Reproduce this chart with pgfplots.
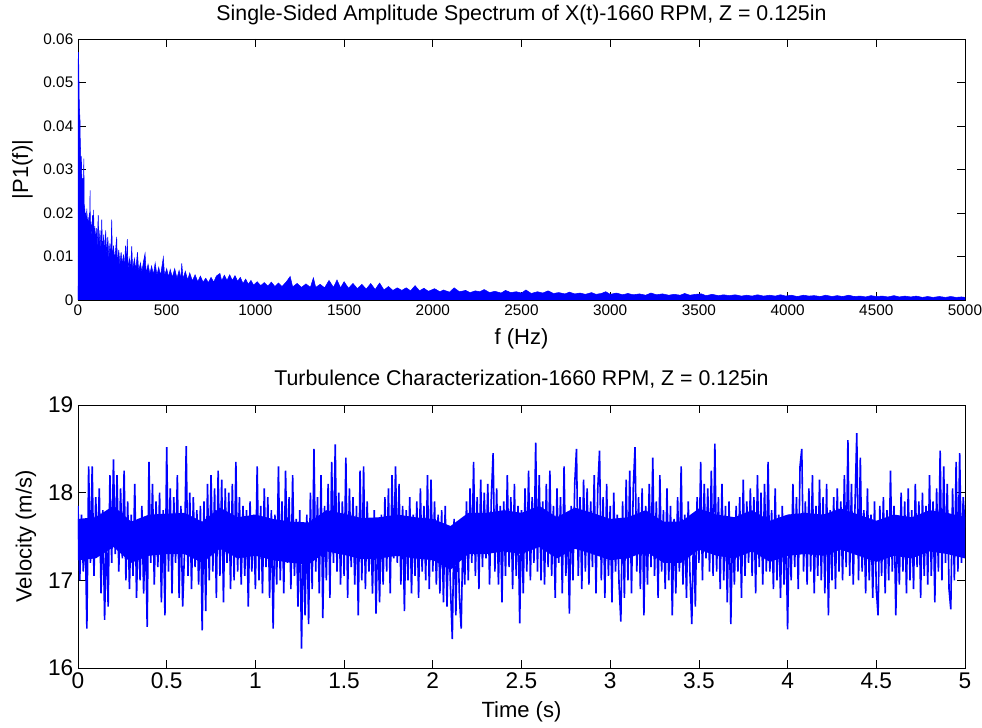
\documentclass[border=0pt]{standalone}
\usepackage{pgfplots}
\usepackage{pgfplotstable}
\pgfplotsset{compat=1.18}
\usepackage{fontspec}
\setmainfont{Liberation Sans}
\definecolor{mblue}{RGB}{0,0,255}

% velocity samples, 0.01 s apart, t = 0 ... 5 s
\pgfplotstableread[row sep=\\]{
v\\
17.85\\ 17.00\\ 17.75\\ 17.10\\ 17.65\\ 16.45\\ 18.30\\ 17.20\\ 18.30\\ 17.05\\
17.95\\ 17.30\\ 18.05\\ 16.85\\ 17.80\\ 16.55\\ 17.60\\ 16.70\\ 18.20\\ 17.20\\
18.38\\ 17.30\\ 18.20\\ 17.10\\ 18.05\\ 17.25\\ 18.25\\ 17.00\\ 17.90\\ 16.90\\
17.75\\ 17.05\\ 18.10\\ 16.80\\ 17.70\\ 17.00\\ 17.85\\ 16.85\\ 17.65\\ 16.47\\
18.35\\ 17.20\\ 18.10\\ 16.95\\ 17.90\\ 17.15\\ 18.00\\ 16.75\\ 17.80\\ 16.60\\
18.52\\ 17.10\\ 18.05\\ 16.85\\ 17.95\\ 17.20\\ 18.20\\ 16.80\\ 17.85\\ 16.70\\
17.30\\ 18.53\\ 17.05\\ 18.00\\ 16.90\\ 17.95\\ 17.15\\ 17.80\\ 16.95\\ 17.85\\
16.43\\ 17.90\\ 16.65\\ 18.10\\ 17.00\\ 18.20\\ 17.10\\ 18.05\\ 16.80\\ 18.25\\
17.05\\ 18.15\\ 16.75\\ 18.05\\ 17.20\\ 18.00\\ 16.90\\ 18.10\\ 17.00\\ 18.35\\
17.10\\ 17.95\\ 16.95\\ 17.85\\ 17.05\\ 17.80\\ 16.70\\ 17.90\\ 17.10\\ 17.75\\
16.90\\ 18.30\\ 17.00\\ 17.85\\ 16.85\\ 18.05\\ 17.15\\ 17.95\\ 16.80\\ 17.80\\
16.45\\ 17.75\\ 16.95\\ 18.30\\ 17.00\\ 17.90\\ 16.85\\ 18.25\\ 17.20\\ 17.95\\
16.90\\ 18.20\\ 17.05\\ 17.70\\ 16.70\\ 17.80\\ 16.22\\ 17.60\\ 16.60\\ 17.75\\
16.50\\ 18.00\\ 16.90\\ 18.50\\ 17.10\\ 17.95\\ 16.85\\ 18.20\\ 16.57\\ 17.85\\
17.00\\ 18.10\\ 16.80\\ 18.35\\ 17.20\\ 18.55\\ 17.10\\ 18.00\\ 16.95\\ 17.90\\
17.05\\ 18.40\\ 16.80\\ 18.05\\ 17.15\\ 17.95\\ 16.95\\ 17.85\\ 16.60\\ 18.25\\
17.00\\ 18.30\\ 16.90\\ 17.90\\ 17.10\\ 17.70\\ 16.85\\ 17.80\\ 16.62\\ 17.60\\
16.75\\ 17.75\\ 16.95\\ 17.95\\ 17.10\\ 18.05\\ 16.85\\ 18.20\\ 17.25\\ 18.30\\
17.20\\ 18.10\\ 16.95\\ 17.85\\ 16.65\\ 17.80\\ 17.00\\ 17.95\\ 16.85\\ 17.75\\
17.05\\ 17.90\\ 16.80\\ 18.05\\ 17.10\\ 17.85\\ 17.00\\ 18.20\\ 16.90\\ 18.15\\
17.10\\ 17.90\\ 16.95\\ 17.75\\ 16.85\\ 17.80\\ 16.75\\ 17.85\\ 16.70\\ 17.60\\
16.90\\ 16.33\\ 17.70\\ 16.60\\ 17.65\\ 16.80\\ 16.45\\ 17.55\\ 16.95\\ 17.90\\
17.00\\ 18.05\\ 17.20\\ 18.35\\ 17.05\\ 17.95\\ 16.90\\ 18.15\\ 17.15\\ 18.00\\
17.25\\ 18.10\\ 16.95\\ 17.95\\ 18.45\\ 17.10\\ 18.05\\ 16.95\\ 17.85\\ 16.75\\
17.90\\ 17.05\\ 18.20\\ 17.15\\ 17.95\\ 16.90\\ 18.10\\ 17.05\\ 17.85\\ 16.51\\
17.80\\ 16.85\\ 18.05\\ 17.10\\ 18.25\\ 17.00\\ 17.95\\ 17.20\\ 18.57\\ 17.10\\
18.20\\ 17.00\\ 17.90\\ 16.95\\ 18.10\\ 17.15\\ 18.25\\ 17.05\\ 17.85\\ 16.80\\
18.05\\ 17.20\\ 17.95\\ 16.85\\ 18.30\\ 17.05\\ 17.70\\ 16.62\\ 17.85\\ 17.00\\
18.10\\ 18.50\\ 17.05\\ 17.95\\ 16.90\\ 18.15\\ 17.10\\ 18.05\\ 16.95\\ 17.90\\
17.15\\ 18.20\\ 16.85\\ 18.05\\ 18.48\\ 17.00\\ 17.95\\ 16.80\\ 18.10\\ 17.05\\
17.85\\ 16.75\\ 18.00\\ 17.10\\ 17.75\\ 16.95\\ 16.53\\ 17.90\\ 16.80\\ 18.15\\
17.00\\ 18.25\\ 16.85\\ 18.05\\ 18.52\\ 17.10\\ 17.95\\ 16.90\\ 18.05\\ 16.60\\
17.85\\ 16.95\\ 18.10\\ 17.15\\ 18.40\\ 17.05\\ 17.90\\ 16.80\\ 18.20\\ 17.10\\
17.80\\ 16.90\\ 18.05\\ 17.00\\ 17.85\\ 16.60\\ 17.70\\ 16.85\\ 17.95\\ 17.10\\
18.30\\ 16.95\\ 17.75\\ 16.80\\ 17.90\\ 17.05\\ 16.50\\ 17.60\\ 16.70\\ 17.95\\
17.20\\ 18.35\\ 17.00\\ 18.10\\ 17.25\\ 18.05\\ 17.10\\ 18.25\\ 17.05\\ 18.56\\
17.10\\ 17.95\\ 16.90\\ 18.10\\ 17.00\\ 17.85\\ 16.75\\ 17.90\\ 16.50\\ 17.70\\
16.95\\ 17.85\\ 17.10\\ 17.95\\ 16.80\\ 18.15\\ 17.05\\ 17.90\\ 17.20\\ 18.05\\
17.05\\ 17.95\\ 16.85\\ 18.20\\ 17.15\\ 18.00\\ 16.95\\ 18.10\\ 17.10\\ 18.35\\
17.10\\ 17.80\\ 16.90\\ 18.05\\ 17.00\\ 17.75\\ 16.80\\ 17.85\\ 16.95\\ 17.70\\
16.44\\ 17.75\\ 17.00\\ 18.10\\ 17.15\\ 17.95\\ 16.90\\ 18.30\\ 18.50\\ 17.10\\
17.90\\ 16.95\\ 18.05\\ 17.10\\ 18.20\\ 16.85\\ 17.85\\ 17.05\\ 18.15\\ 17.00\\
17.95\\ 16.85\\ 18.10\\ 16.60\\ 17.80\\ 17.00\\ 17.95\\ 16.90\\ 18.05\\ 17.10\\
17.90\\ 17.00\\ 18.20\\ 17.15\\ 18.60\\ 17.05\\ 18.10\\ 16.95\\ 17.85\\ 18.68\\
17.00\\ 18.40\\ 17.10\\ 17.80\\ 16.85\\ 18.05\\ 17.00\\ 17.75\\ 16.80\\ 17.90\\
16.90\\ 16.60\\ 17.85\\ 17.05\\ 17.95\\ 16.85\\ 17.80\\ 17.00\\ 18.25\\ 17.10\\
17.85\\ 16.60\\ 17.70\\ 16.95\\ 18.00\\ 17.10\\ 17.90\\ 16.85\\ 18.05\\ 17.00\\
17.80\\ 16.90\\ 18.10\\ 17.15\\ 17.90\\ 16.80\\ 18.00\\ 17.05\\ 17.85\\ 16.95\\
18.20\\ 17.05\\ 17.90\\ 16.75\\ 18.05\\ 17.10\\ 18.48\\ 17.00\\ 18.30\\ 17.20\\
18.10\\ 16.90\\ 16.67\\ 18.05\\ 17.00\\ 18.35\\ 17.10\\ 18.45\\ 17.20\\ 17.95\\
17.60\\
}\velocity

\begin{document}
\begin{tikzpicture}
\useasboundingbox (0,0) rectangle (736.5pt,546pt);

\pgfplotsset{
  every axis/.append style={
    scale only axis,
    axis line style={black, line width=0.5pt},
    tick style={black, line width=0.5pt},
    tick align=inside,
    major tick length=6pt,
    title style={font=\fontsize{16}{18}\selectfont},
    label style={font=\fontsize{16.5}{18}\selectfont},
    /pgf/number format/assume math mode=true,
    /pgf/number format/1000 sep={},
    scaled ticks=false,
  },
}

% ---- top: amplitude spectrum ----
\begin{axis}[
    at={(58.5pt,321pt)}, anchor=south west,
    width=665.25pt, height=195.75pt,
    xmin=0, xmax=5000, ymin=0, ymax=0.06,
    xtick={0,500,...,5000},
    ytick={0,0.01,0.02,0.03,0.04,0.05,0.06},
    yticklabels={0,0.01,0.02,0.03,0.04,0.05,0.06},
    tick label style={font=\fontsize{11.5}{13}\selectfont},
    title={Single-Sided Amplitude Spectrum of X(t)-1660 RPM, Z = 0.125in},
    title style={at={(axis description cs:0.5,1.04)}, anchor=base},
    xlabel={f (Hz)}, ylabel={|P1(f)|},
    x label style={at={(axis description cs:0.5,-0.149)}, anchor=center},
    y label style={at={(axis description cs:-0.0626,0.5)}, anchor=center},
  ]
\addplot[mblue, fill=mblue, line width=0.4pt] coordinates {
(0,0.003)(1,0.055)(3,0.057)(5,0.052)(7,0.046)(9,0.043)(11,0.042)(13,0.036)
(15,0.034)(17,0.030)(19,0.033)(21,0.029)(24,0.026)(27,0.028)(30,0.024)(33,0.0325)
(35,0.022)(38,0.021)(41,0.019)(43,0.020)(46,0.017)(50,0.021)(53,0.016)(57,0.019)
(60,0.016)(64,0.020)(66,0.015)(68,0.0252)(70,0.015)(74,0.018)(78,0.014)(82,0.0195)
(85,0.014)(88,0.0207)(91,0.013)(95,0.017)(98,0.012)
(103,0.0165)(108,0.012)(114,0.0195)(118,0.0125)(124,0.016)(130,0.011)(134,0.0185)
(138,0.011)(145,0.015)(150,0.0105)(156,0.016)(162,0.010)(168,0.0145)(174,0.0095)
(180,0.013)(185,0.0095)(190,0.0185)(194,0.009)(200,0.0125)(207,0.009)(213,0.012)
(218,0.0145)(222,0.0085)(230,0.0115)(236,0.008)(243,0.011)(250,0.008)(256,0.0105)
(262,0.0075)(268,0.0125)(272,0.0075)(278,0.014)(282,0.0072)(290,0.0095)(296,0.007)
(303,0.0123)(308,0.007)
(318,0.0095)(326,0.0068)(335,0.011)(342,0.0066)(352,0.0085)(360,0.0065)(370,0.009)
(378,0.0107)(384,0.0062)(395,0.0082)(405,0.006)(415,0.0078)(425,0.0058)(435,0.0085)
(445,0.0057)(455,0.0075)(465,0.0056)(475,0.0082)(481,0.0098)(488,0.0055)(500,0.0072)
(510,0.0053)(520,0.007)(532,0.0052)(545,0.0072)(558,0.005)(570,0.0068)(580,0.0049)
(585,0.0084)(592,0.0048)(605,0.0066)(618,0.0046)(630,0.0062)(645,0.0044)(660,0.0058)
(675,0.0042)(690,0.0055)(705,0.0041)(720,0.005)(735,0.004)(750,0.0052)(765,0.0041)
(780,0.0055)(800,0.0061)(810,0.0044)(825,0.0057)(840,0.0045)(855,0.0058)(870,0.0045)
(885,0.0056)(900,0.0043)(915,0.0052)(930,0.0038)(945,0.0048)(960,0.0036)(975,0.0045)
(990,0.0034)
(1010,0.0042)(1030,0.0033)(1050,0.004)(1070,0.0032)(1090,0.0041)(1110,0.0031)
(1130,0.0039)(1150,0.0031)(1175,0.0042)(1196,0.0054)(1210,0.003)(1235,0.0038)
(1260,0.0029)(1285,0.0037)(1310,0.0029)(1327,0.0051)(1340,0.0029)(1365,0.0036)
(1390,0.0028)(1415,0.0045)(1440,0.0029)(1460,0.0046)(1480,0.0028)(1500,0.0042)
(1525,0.0027)(1550,0.0038)(1575,0.0026)(1600,0.0036)(1625,0.0025)(1650,0.0038)
(1675,0.0024)(1700,0.0039)(1725,0.0023)(1750,0.0031)(1775,0.0022)(1800,0.0028)
(1825,0.0022)(1850,0.0028)(1875,0.0021)(1900,0.0033)(1925,0.0021)(1950,0.0027)
(1975,0.002)
(2010,0.0026)(2040,0.0019)(2060,0.0023)(2095,0.0018)(2120,0.0028)(2150,0.0019)
(2185,0.0022)(2210,0.0017)(2240,0.0021)(2265,0.0019)(2290,0.0024)(2320,0.0017)
(2350,0.002)(2385,0.0016)(2410,0.0022)(2440,0.0017)(2470,0.0019)(2500,0.0016)
(2525,0.0023)(2555,0.0015)(2590,0.0019)(2620,0.0016)(2650,0.0021)(2680,0.0015)
(2710,0.0017)(2745,0.0014)(2770,0.0018)(2800,0.0014)(2830,0.0016)(2860,0.0013)
(2895,0.0017)(2920,0.0013)(2950,0.0015)(2975,0.0019)(3000,0.0013)
(3035,0.0016)(3070,0.0012)(3100,0.0015)(3130,0.0012)(3165,0.0014)(3200,0.0011)
(3230,0.0016)(3260,0.0012)(3295,0.0014)(3330,0.0011)(3360,0.0013)(3395,0.0011)
(3420,0.0015)(3450,0.0011)(3480,0.0013)(3515,0.0014)(3540,0.001)(3575,0.0013)
(3610,0.001)(3640,0.0012)(3670,0.0010)(3705,0.0012)(3740,0.0009)(3770,0.0011)
(3800,0.0009)(3830,0.0012)(3865,0.0009)(3900,0.0011)(3930,0.0009)(3960,0.0012)
(3990,0.0009)(4020,0.0011)(4055,0.0008)(4090,0.0011)(4120,0.0009)(4150,0.001)
(4185,0.0008)(4215,0.0011)(4250,0.0008)(4280,0.001)(4310,0.0008)(4345,0.0011)
(4375,0.0008)(4410,0.0009)(4440,0.0007)(4470,0.001)(4500,0.0008)(4535,0.0009)
(4565,0.0007)(4600,0.001)(4630,0.0007)(4660,0.0009)(4695,0.0007)(4725,0.0009)
(4760,0.0006)(4790,0.0008)(4820,0.0006)(4855,0.0008)(4890,0.0006)(4920,0.0008)
(4950,0.0006)(4980,0.0007)(5000,0.0006)
} \closedcycle;
\end{axis}

% ---- bottom: velocity time series ----
\begin{axis}[
    at={(58.5pt,45pt)}, anchor=south west,
    width=665.25pt, height=197.25pt,
    xmin=0, xmax=5, ymin=16, ymax=19,
    xtick={0,0.5,...,5}, ytick={16,17,18,19},
    tick label style={font=\fontsize{17}{19}\selectfont},
    title={Turbulence Characterization-1660 RPM, Z = 0.125in},
    title style={at={(axis description cs:0.5,1.045)}, anchor=base},
    xlabel={Time (s)}, ylabel={Velocity (m/s)},
    x label style={at={(axis description cs:0.5,-0.167)}, anchor=center},
    y label style={at={(axis description cs:-0.0586,0.5)}, anchor=center},
  ]
% dense core of the signal: upper edge left to right, lower edge back
\addplot[mblue, fill=mblue, draw=none] coordinates {
(0,17.70)(0.1,17.72)(0.2,17.85)(0.3,17.67)(0.4,17.75)(0.5,17.76)(0.6,17.77)
(0.7,17.67)(0.8,17.83)(0.9,17.72)(1,17.75)(1.1,17.70)(1.2,17.67)(1.3,17.66)
(1.4,17.80)(1.5,17.76)(1.6,17.71)(1.7,17.72)(1.8,17.75)(1.9,17.72)(2,17.70)
(2.1,17.62)(2.2,17.77)(2.3,17.77)(2.4,17.80)(2.5,17.77)(2.6,17.85)(2.7,17.72)
(2.8,17.83)(2.9,17.77)(3,17.70)(3.1,17.72)(3.2,17.80)(3.3,17.67)(3.4,17.67)
(3.5,17.82)(3.6,17.75)(3.7,17.72)(3.8,17.80)(3.9,17.68)(4,17.75)(4.1,17.77)
(4.2,17.75)(4.3,17.82)(4.4,17.75)(4.5,17.68)(4.6,17.75)(4.7,17.72)(4.8,17.80)
(4.9,17.77)(5,17.72)
(5,17.25)(4.9,17.30)(4.8,17.33)(4.7,17.25)(4.6,17.28)(4.5,17.21)(4.4,17.28)
(4.3,17.35)(4.2,17.28)(4.1,17.30)(4,17.28)(3.9,17.21)(3.8,17.33)(3.7,17.25)
(3.6,17.28)(3.5,17.35)(3.4,17.20)(3.3,17.20)(3.2,17.33)(3.1,17.25)(3,17.23)
(2.9,17.30)(2.8,17.36)(2.7,17.25)(2.6,17.38)(2.5,17.30)(2.4,17.33)(2.3,17.30)
(2.2,17.30)(2.1,17.12)(2,17.23)(1.9,17.25)(1.8,17.28)(1.7,17.25)(1.6,17.24)
(1.5,17.29)(1.4,17.33)(1.3,17.18)(1.2,17.20)(1.1,17.23)(1,17.28)(0.9,17.25)
(0.8,17.36)(0.7,17.20)(0.6,17.30)(0.5,17.30)(0.4,17.28)(0.3,17.20)(0.2,17.38)
(0.1,17.25)(0,17.23)
};
\addplot[mblue, line width=1.2pt] table[x expr=\coordindex/100, y=v] {\velocity};
\end{axis}
\end{tikzpicture}
\end{document}
